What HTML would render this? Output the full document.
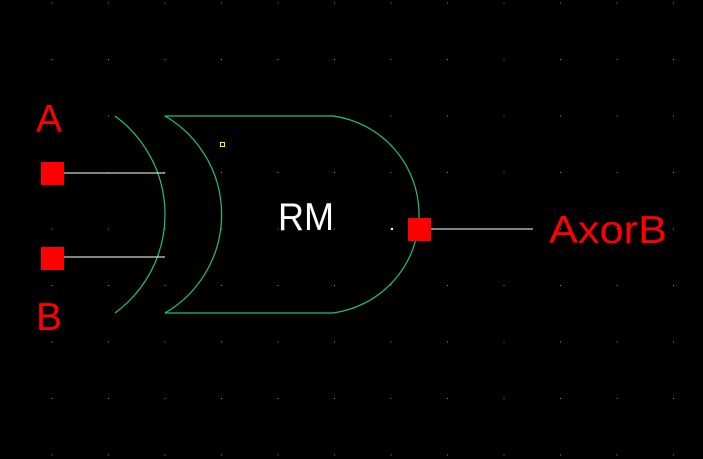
<!DOCTYPE html>
<html><head><style>html,body{margin:0;padding:0;background:#000;}svg{display:block}</style></head>
<body>
<svg width="703" height="459" viewBox="0 0 703 459" xmlns="http://www.w3.org/2000/svg">
<rect width="703" height="459" fill="#000"/>
<defs>
<pattern id="g" x="51.5" y="2.5" width="56.5" height="56.5" patternUnits="userSpaceOnUse">
<rect width="1" height="1" fill="#8890a0"/>
</pattern>
</defs>
<rect width="703" height="459" fill="url(#g)"/>
<g fill="none" stroke="#22c080" stroke-width="1.2">
<path d="M115,116 A122,122 0 0 1 115,313"/>
<path d="M165,116 A114,114 0 0 1 165,313"/>
<path d="M165,116 H333 A99.4,99.4 0 0 1 333,313 H165"/>
<line x1="64" y1="173" x2="165" y2="173" stroke="#c8d8d0"/>
<line x1="64" y1="257" x2="165" y2="257" stroke="#c8d8d0"/>
<line x1="431" y1="229" x2="533" y2="229" stroke="#c8d8d0"/>
</g>
<rect x="41" y="162" width="23" height="23" fill="#ff0000"/>
<rect x="41" y="247" width="23" height="23" fill="#ff0000"/>
<rect x="408" y="218" width="23" height="23" fill="#ff0000"/>
<rect x="220.5" y="142.5" width="4" height="4" fill="none" stroke="#ffff00" stroke-width="1"/>
<rect x="391" y="228" width="2" height="2" fill="#fff"/>
<g font-family="Liberation Sans, sans-serif" font-size="39">
<text x="36" y="132" fill="#ff0000">A</text>
<text x="36" y="330" fill="#ff0000">B</text>
<text x="549" y="243" fill="#ff0000" textLength="118" lengthAdjust="spacingAndGlyphs">AxorB</text>
<text x="278" y="230" fill="#fff" textLength="56" lengthAdjust="spacingAndGlyphs">RM</text>
</g>
</svg>
</body></html>
